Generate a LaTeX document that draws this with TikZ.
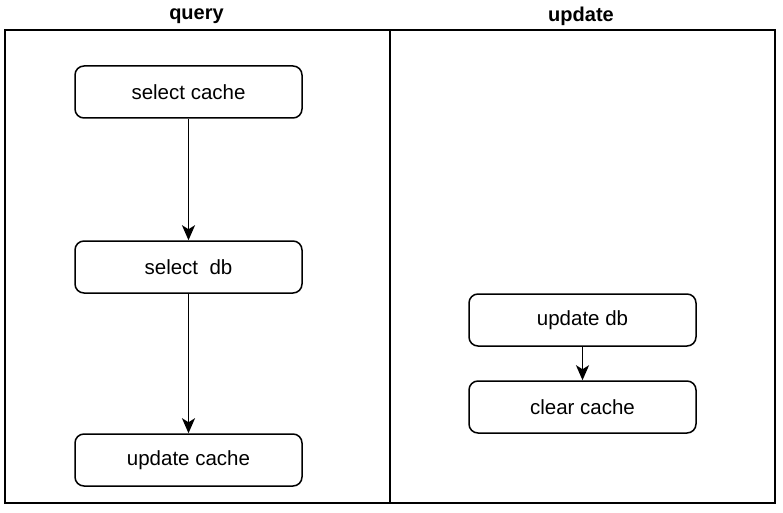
\documentclass[tikz,border=0pt]{standalone}
\usepackage{fontspec}
\setmainfont{Liberation Sans}
\usetikzlibrary{arrows.meta}
\usetikzlibrary{positioning}

\begin{document}
\begin{tikzpicture}[x=1pt,y=-1pt,box/.style={rectangle, draw, rounded corners=9pt, minimum width=227pt, minimum height=52pt, line width=1.5pt, font=\fontsize{20.5}{24}\selectfont}]
    \tikzset{lane/.style={draw, line width=1.8pt}}
    \tikzset{title/.style={font=\bfseries\fontsize{20}{24}\selectfont}}
    \tikzset{flow/.style={-{Stealth[length=15pt,width=13pt,inset=4pt]}, line width=1.8pt}}
    \useasboundingbox (0,0) rectangle (783,513);
    % two lanes
    \draw[lane] (5,30) rectangle (390,503);
    \draw[lane] (390,30) rectangle (775,503);
    \node[title] (query) at (196.5,16.5) {query};
    \node[title] (update) at (581,16.5) {update};
    % query side
    \node[box] (selcache) at (188.5,92) {select cache};
    \node[box] (seldb) at (188.5,267) {select\ \ db};
    \node[box] (updcache) at (188.5,460) {update cache};
    \draw[flow] (selcache) -- (seldb);
    \draw[flow] (seldb) -- (updcache);
    % update side
    \node[box] (upddb) at (582.5,320) {update db};
    \node[box] (clrcache) at (582.5,407) {clear cache};
    \draw[flow] (upddb) -- (clrcache);
\end{tikzpicture}
\end{document}
